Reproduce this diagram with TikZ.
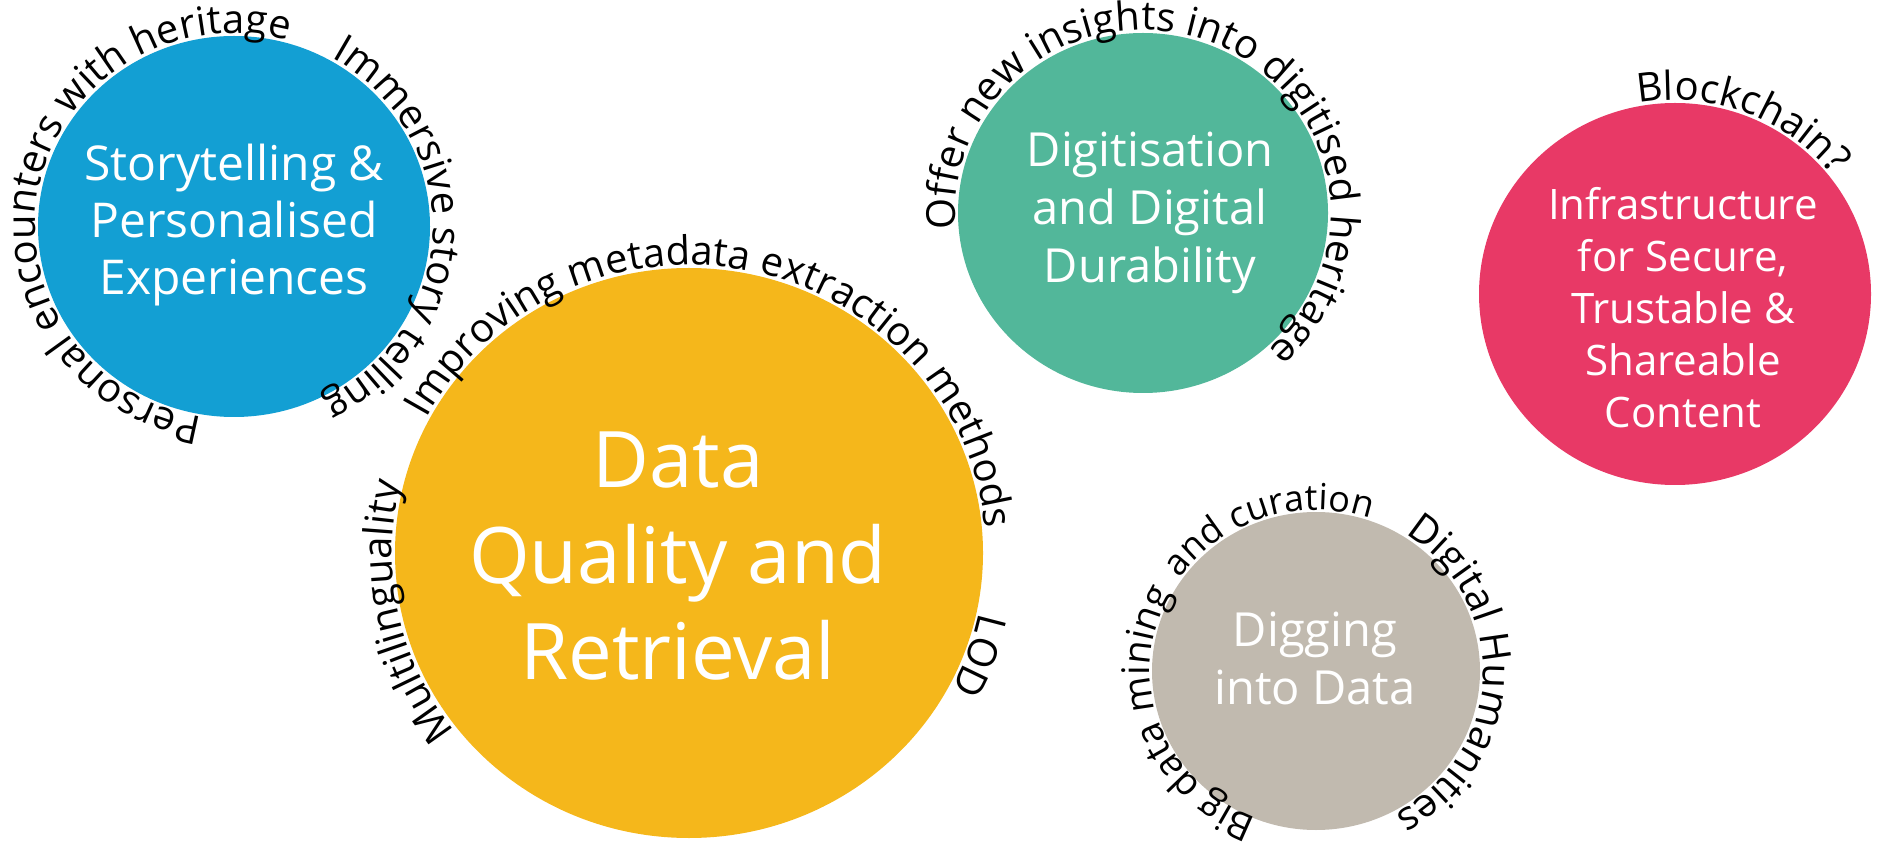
\documentclass[tikz,border=0pt]{standalone}
\usepackage{fontspec}
\setmainfont{Open Sans}
\usetikzlibrary{decorations.text}
\definecolor{storyblue}{RGB}{19,159,211}
\definecolor{qualityyellow}{RGB}{245,183,27}
\definecolor{digigreen}{RGB}{82,183,154}
\definecolor{infrapink}{RGB}{232,57,102}
\definecolor{diggrey}{RGB}{193,186,175}
\newcommand\arcfont{\fontsize{20}{24}\selectfont}
% [font] centre, x radius, y radius, start angle, end angle, text
\newcommand\arclabel[7][\arcfont]{\path[decorate,decoration={text along path,text align=center,text={|#1|#7}}]
	(#2) ++(#5:#3 and #4) arc[start angle=#5,end angle=#6,x radius=#3,y radius=#4];}
\begin{document}
\begin{tikzpicture}[x=0.5pt,y=0.5pt,line join=round,line cap=round,topic/.style={text=white,align=center}]
			\useasboundingbox (0,0) rectangle (1878,841);
			\foreach \n/\p/\rx/\ry/\c in {story/{234,614.5}/196/190.5/storyblue,quality/{689,288}/294/285/qualityyellow,digi/{1143,628}/185/180/digigreen,infra/{1675,547}/196/191/infrapink,dig/{1316,170}/164/159/diggrey}
				\fill[\c] (\p) coordinate (\n) ellipse [x radius=\rx,y radius=\ry];
			\node[topic,font=\fontsize{24}{28.5}\selectfont] (storylabel) at (234,616) {Storytelling \&\\Personalised\\Experiences};
			\node[topic,font=\fontsize{39}{48}\selectfont] (qualitylabel) at (678,285) {Data\\Quality and\\Retrieval};
			\node[topic,font=\fontsize{23.5}{29}\selectfont] (digilabel) at (1150,628.5) {Digitisation\\and Digital\\Durability};
			\node[topic,font=\fontsize{21}{26}\selectfont] (infralabel) at (1683,533.5) {Infrastructure\\for Secure,\\Trustable \&\\Shareable\\Content};
			\node[topic,font=\fontsize{23.5}{29}\selectfont] (diglabel) at (1315,183) {Digging\\into Data};
			\arclabel{story}{199}{193.5}{275}{60}{Personal encounters with heritage}
			\arclabel{story}{199}{193.5}{75}{-78}{Immersive story telling}
			\arclabel{quality}{297}{288}{165}{-8}{Improving metadata extraction methods}
			\arclabel{quality}{297}{288}{232}{152}{Multilinguality}
			\arclabel{quality}{297}{288}{-5}{-35}{LOD}
			\arclabel{digi}{188}{183}{200}{-63}{Offer new insights into digitised heritage}
			\arclabel{infra}{199}{194}{115}{23}{Blockchain?}
			\arclabel[\fontsize{19}{23}\selectfont]{dig}{166}{157.5}{262.5}{136.5}{Big data mining}
			\arclabel[\fontsize{18}{22}\selectfont]{dig}{166}{161}{158}{58}{and curation}
			\arclabel{dig}{167}{162}{72}{-76}{Digital Humanities}
		\end{tikzpicture}
\end{document}
